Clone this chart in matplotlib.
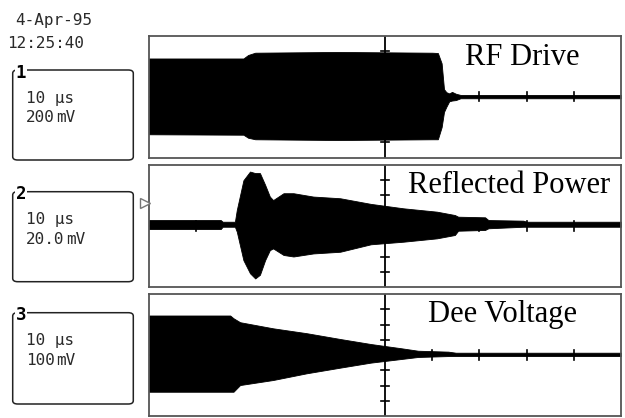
import matplotlib
matplotlib.use("Agg")
import matplotlib.pyplot as plt
from matplotlib.patches import FancyBboxPatch

W, H = 625, 418

# ---------------- data (graticule divisions: x 0..10, y -4..4) ----------------
# Channel 1: RF Drive envelope
rf_t     = [0, 2.0, 2.1, 2.25, 4.0, 6.0, 6.12, 6.2, 6.25, 6.3, 6.36, 6.42, 6.5, 6.6, 10]
rf_upper = [2.52, 2.52, 2.75, 2.9, 2.95, 2.9, 2.88, 2.2, 0.5, 0.3, 0.22, 0.32, 0.2, 0.12, 0.12]
rf_lower = [-2.47, -2.5, -2.7, -2.8, -2.85, -2.8, -2.8, -2.0, -1.0, -0.66, -0.3, -0.25, -0.22, -0.1, -0.1]

# Channel 2: Reflected Power envelope
rp_t     = [0, 1.52, 1.56, 1.82, 1.86, 2.0, 2.14, 2.25, 2.35, 2.46, 2.56, 2.63, 2.85, 3.06,
            3.48, 4.05, 4.7, 5.39, 6.1, 6.48, 6.55, 7.12, 7.19, 7.93, 8.0, 10]
rp_upper = [0.39, 0.39, 0.28, 0.28, 1.05, 3.0, 3.57, 3.47, 3.47, 2.7, 1.93, 1.7, 2.15, 2.15,
            1.93, 1.82, 1.45, 1.16, 0.94, 0.72, 0.61, 0.57, 0.39, 0.35, 0.28, 0.28]
rp_lower = [-0.2, -0.2, -0.05, -0.05, -0.37, -2.24, -3.1, -3.44, -3.2, -2.24, -1.58, -1.47, -1.9, -2.0,
            -1.8, -1.69, -1.2, -1.03, -0.81, -0.59, -0.31, -0.26, -0.15, -0.05, -0.05, -0.05]

# Channel 3: Dee Voltage envelope
dv_t     = [0, 1.72, 1.79, 1.93, 2.63, 3.34, 4.05, 4.7, 5.0, 5.35, 5.7, 6.34, 6.5, 10]
dv_upper = [2.59, 2.59, 2.41, 2.15, 1.75, 1.43, 1.05, 0.72, 0.59, 0.44, 0.28, 0.22, 0.15, 0.15]
dv_lower = [-2.41, -2.41, -2.41, -1.97, -1.64, -1.2, -0.83, -0.5, -0.39, -0.26, -0.13, -0.07, -0.07, -0.07]

titles = ["RF Drive", "Reflected Power", "Dee Voltage"]
channels = ["1", "2", "3"]
timebase = ["10 μs", "10 μs", "10 μs"]
volts = ["200", "20.0", "100"]
volt_unit = "mV"
date_text = "4-Apr-95"
time_text = "12:25:40"
trigger_level = 1.51  # channel 2 trigger marker, divisions

# ---------------- figure ----------------
fig = plt.figure(figsize=(W / 100, H / 100), dpi=100)
fig.patch.set_facecolor("white")


def fx(x):
    return x / W


def fy(y):
    return 1 - y / H


panel_px = [(149, 36, 621, 157.5), (149, 165, 621, 287), (149, 294, 621, 416)]
title_pos = [(465, 65), (408, 193.3), (428, 321.7)]
box_px = [(12.7, 70, 133.3, 160), (12.7, 191.7, 133.3, 281.7), (12.7, 312.7, 133.3, 404)]
traces = [(rf_t, rf_upper, rf_lower), (rp_t, rp_upper, rp_lower), (dv_t, dv_upper, dv_lower)]

mono = "DejaVu Sans Mono"
tcol = "#2a2a2a"

axes = []
for i, (x0, y0, x1, y1) in enumerate(panel_px):
    ax = fig.add_axes([fx(x0), fy(y1), (x1 - x0) / W, (y1 - y0) / H])
    ax.set_xlim(0, 10)
    ax.set_ylim(-4, 4)
    ax.set_xticks([])
    ax.set_yticks([])
    for s in ax.spines.values():
        s.set_color("#555555")
        s.set_linewidth(1.3)
    # graticule cross with tick marks
    ax.axhline(0, color="black", lw=1.3, zorder=1)
    ax.axvline(5, color="black", lw=1.3, zorder=1)
    for xv in range(1, 10):
        if xv != 5:
            ax.plot([xv, xv], [-0.3, 0.3], color="black", lw=1.2, zorder=1)
    for yv in range(-3, 4):
        if yv != 0:
            ax.plot([4.915, 5.085], [yv, yv], color="black", lw=1.2, zorder=1)
    t, up, lo = traces[i]
    ax.fill_between(t, lo, up, color="black", lw=0.6, edgecolor="black", zorder=2)
    axes.append(ax)

    # title text
    tx, ty = title_pos[i]
    fig.text(fx(tx), fy(ty), titles[i], family="Liberation Serif", fontsize=22,
             ha="left", va="baseline", color="black")

    # channel info box
    bx0, by0, bx1, by1 = box_px[i]
    box = FancyBboxPatch((fx(bx0), fy(by1)), (bx1 - bx0) / W, (by1 - by0) / H,
                         boxstyle="round,pad=0,rounding_size=0.008",
                         transform=fig.transFigure, facecolor="none",
                         edgecolor="#222222", lw=1.1)
    fig.add_artist(box)
    fig.text(fx(21), fy(by0 + 7.5), channels[i], family=mono, fontweight="bold",
             fontsize=12.5, ha="center", va="baseline", color="black",
             bbox=dict(facecolor="white", edgecolor="none", pad=0.6))
    fig.text(fx(26), fy(by0 + 32.5), timebase[i], family=mono, fontsize=11.5,
             ha="left", va="baseline", color=tcol)
    vt = fig.text(fx(26), fy(by0 + 52.5), volts[i], family=mono, fontsize=11.5,
                  ha="left", va="baseline", color=tcol)
    fig.text(fx(26 + 9.6 * len(volts[i]) + 1.5), fy(by0 + 52.5), volt_unit, family=mono,
             fontsize=11.5, ha="left", va="baseline", color=tcol)

# trigger marker on channel 2
axes[1].plot([-0.09], [trigger_level], marker=">", ms=6.5, mfc="white", mec="#777777",
             mew=1.0, clip_on=False, zorder=5)

# date / time
fig.text(fx(15), fy(25), date_text, family=mono, fontsize=11.5, ha="left",
         va="baseline", color=tcol)
fig.text(fx(7), fy(48.3), time_text, family=mono, fontsize=11.5, ha="left",
         va="baseline", color=tcol)

fig.savefig("out.png", dpi=100, facecolor="white")
